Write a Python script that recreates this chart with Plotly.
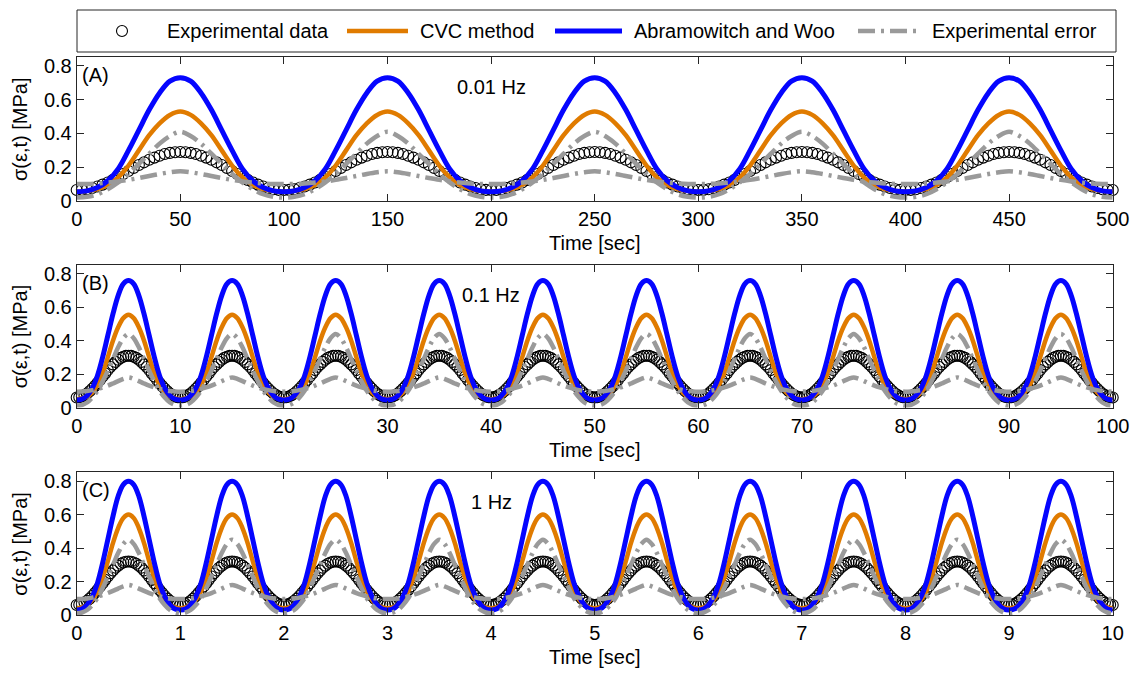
import plotly.graph_objects as go

W, H = 1142, 673

# ---------------- data (one cycle each) ----------------
# line curves: 20 samples per cycle (phase 0, 0.05, ... 0.95)
# circles: 40 samples per cycle (phase 0, 0.025, ... 0.975)
PERIOD_A, CYCLES_A = 100, 5
PERIOD_B, CYCLES_B = 10, 10
PERIOD_C, CYCLES_C = 1, 10

blue_A = [0.055, 0.06, 0.08, 0.12, 0.19, 0.30, 0.42, 0.54, 0.64, 0.71, 0.73,
          0.71, 0.64, 0.54, 0.42, 0.30, 0.19, 0.12, 0.08, 0.06]
orange_A = [0.055, 0.06, 0.07, 0.095, 0.14, 0.21, 0.30, 0.39, 0.46, 0.51, 0.53,
            0.51, 0.46, 0.39, 0.30, 0.21, 0.14, 0.095, 0.07, 0.06]
upper_A = [0.02, 0.025, 0.04, 0.07, 0.11, 0.16, 0.22, 0.28, 0.34, 0.385, 0.41,
           0.385, 0.34, 0.28, 0.22, 0.16, 0.11, 0.07, 0.04, 0.025]
lower_A = [0.100, 0.101, 0.104, 0.109, 0.116, 0.125, 0.136, 0.148, 0.160, 0.170, 0.176,
           0.170, 0.160, 0.148, 0.136, 0.125, 0.116, 0.109, 0.104, 0.101]
circ_A = [0.065, 0.066, 0.070, 0.077, 0.086, 0.097, 0.110, 0.125, 0.142, 0.160,
          0.178, 0.196, 0.213, 0.229, 0.244, 0.257, 0.268, 0.278, 0.285, 0.289,
          0.290, 0.289, 0.285, 0.278, 0.268, 0.257, 0.244, 0.229, 0.213, 0.196,
          0.178, 0.160, 0.142, 0.125, 0.110, 0.097, 0.086, 0.077, 0.070, 0.066]

blue_B = [0.045, 0.05, 0.07, 0.115, 0.19, 0.30, 0.43, 0.56, 0.67, 0.74, 0.76,
          0.74, 0.67, 0.56, 0.43, 0.30, 0.19, 0.115, 0.07, 0.05]
orange_B = [0.05, 0.055, 0.065, 0.09, 0.135, 0.205, 0.30, 0.40, 0.48, 0.535, 0.555,
            0.535, 0.48, 0.40, 0.30, 0.205, 0.135, 0.09, 0.065, 0.055]
upper_B = [0.01, 0.015, 0.03, 0.06, 0.10, 0.155, 0.22, 0.29, 0.36, 0.415, 0.44,
           0.415, 0.36, 0.29, 0.22, 0.155, 0.10, 0.06, 0.03, 0.015]
lower_B = [0.095, 0.096, 0.099, 0.104, 0.111, 0.120, 0.131, 0.144, 0.158, 0.171, 0.180,
           0.171, 0.158, 0.144, 0.131, 0.120, 0.111, 0.104, 0.099, 0.096]
circ_B = [0.060, 0.062, 0.066, 0.074, 0.084, 0.097, 0.112, 0.128, 0.146, 0.165,
          0.185, 0.204, 0.224, 0.242, 0.258, 0.273, 0.286, 0.297, 0.304, 0.309,
          0.310, 0.309, 0.304, 0.297, 0.286, 0.273, 0.258, 0.242, 0.224, 0.204,
          0.185, 0.165, 0.146, 0.128, 0.112, 0.097, 0.084, 0.074, 0.066, 0.062]

blue_C = [0.03, 0.036, 0.06, 0.11, 0.19, 0.31, 0.45, 0.59, 0.71, 0.78, 0.80,
          0.78, 0.71, 0.59, 0.45, 0.31, 0.19, 0.11, 0.06, 0.036]
orange_C = [0.04, 0.045, 0.06, 0.09, 0.14, 0.22, 0.32, 0.43, 0.52, 0.58, 0.60,
            0.58, 0.52, 0.43, 0.32, 0.22, 0.14, 0.09, 0.06, 0.045]
upper_C = [0.01, 0.015, 0.03, 0.06, 0.10, 0.16, 0.23, 0.30, 0.37, 0.425, 0.45,
           0.425, 0.37, 0.30, 0.23, 0.16, 0.10, 0.06, 0.03, 0.015]
lower_C = [0.095, 0.096, 0.099, 0.104, 0.111, 0.120, 0.131, 0.144, 0.158, 0.171, 0.180,
           0.171, 0.158, 0.144, 0.131, 0.120, 0.111, 0.104, 0.099, 0.096]
circ_C = [0.060, 0.062, 0.066, 0.074, 0.085, 0.098, 0.114, 0.131, 0.150, 0.170,
          0.190, 0.210, 0.230, 0.249, 0.266, 0.282, 0.295, 0.306, 0.314, 0.318,
          0.320, 0.318, 0.314, 0.306, 0.295, 0.282, 0.266, 0.249, 0.230, 0.210,
          0.190, 0.170, 0.150, 0.131, 0.114, 0.098, 0.085, 0.074, 0.066, 0.062]

xticks_A = [0, 50, 100, 150, 200, 250, 300, 350, 400, 450, 500]
xticks_B = [0, 10, 20, 30, 40, 50, 60, 70, 80, 90, 100]
xticks_C = [0, 1, 2, 3, 4, 5, 6, 7, 8, 9, 10]
yticks = [0, 0.2, 0.4, 0.6, 0.8]
ytext = ["0", "0.2", "0.4", "0.6", "0.8"]

freq_labels = ["0.01 Hz", "0.1 Hz", "1 Hz"]
panel_labels = ["(A)", "(B)", "(C)"]
legend_names = ["Experimental data", "CVC method", "Abramowitch and Woo", "Experimental error"]

# ---------------- styles ----------------
FONT = "Liberation Sans, Arial, Helvetica, sans-serif"
BLUE = "#0505ff"
ORANGE = "#e07b00"
GRAY = "#9a9a9a"
AX = "#262626"
DASH = "17px,6px,3px,6px"


def tile(vals, period, cycles):
    n = len(vals)
    xs = [(k + i / n) * period for k in range(cycles) for i in range(n)] + [cycles * period]
    ys = vals * cycles + [vals[0]]
    return xs, ys


def px(x):
    return x / W


def py(y):
    return 1 - y / H


panels = [
    dict(period=PERIOD_A, cycles=CYCLES_A, blue=blue_A, orange=orange_A, upper=upper_A,
         lower=lower_A, circ=circ_A, ticks=xticks_A, top=57, bot=201),
    dict(period=PERIOD_B, cycles=CYCLES_B, blue=blue_B, orange=orange_B, upper=upper_B,
         lower=lower_B, circ=circ_B, ticks=xticks_B, top=265, bot=407.5),
    dict(period=PERIOD_C, cycles=CYCLES_C, blue=blue_C, orange=orange_C, upper=upper_C,
         lower=lower_C, circ=circ_C, ticks=xticks_C, top=472.3, bot=615),
]

PL, PR = 76.7, 1112.7

fig = go.Figure()
layout = dict(
    template="none",
    width=W, height=H, margin=dict(l=0, r=0, t=0, b=0, pad=0, autoexpand=False),
    paper_bgcolor="white", plot_bgcolor="white", showlegend=False,
    font=dict(family=FONT, size=20, color="black"),
)
annotations = []
shapes = []

for i, p in enumerate(panels):
    sfx = "" if i == 0 else str(i + 1)
    xa, ya = "x" + sfx, "y" + sfx
    cx, cy = tile(p["circ"], p["period"], p["cycles"])
    fig.add_trace(go.Scatter(x=cx, y=cy, mode="markers", xaxis=xa, yaxis=ya, cliponaxis=False,
                             marker=dict(symbol="circle-open", size=11, color="black",
                                         line=dict(width=1.1, color="black"))))
    for key, col, wid, dash in [("orange", ORANGE, 4.5, "solid"), ("blue", BLUE, 5, "solid"),
                                ("upper", GRAY, 4.5, DASH), ("lower", GRAY, 4.5, DASH)]:
        lx, ly = tile(p[key], p["period"], p["cycles"])
        fig.add_trace(go.Scatter(x=lx, y=ly, mode="lines", xaxis=xa, yaxis=ya,
                                 line=dict(color=col, width=wid, dash=dash, shape="spline", smoothing=1.0)))
    axstyle = dict(showline=True, linecolor=AX, linewidth=1, mirror="ticks", ticks="inside",
                   ticklen=7, tickcolor=AX, tickwidth=1, showgrid=False, zeroline=False,
                   automargin=False,
                   tickfont=dict(family=FONT, size=20, color="black"))
    layout["xaxis" + sfx] = dict(axstyle, domain=[px(PL), px(PR)], anchor=ya,
                                 range=[0, p["ticks"][-1]], tickmode="array", tickvals=p["ticks"],
                                 ticktext=[str(t) for t in p["ticks"]])
    layout["yaxis" + sfx] = dict(axstyle, domain=[py(p["bot"]), py(p["top"])], anchor=xa,
                                 range=[0, 0.853], tickmode="array", tickvals=yticks, ticktext=ytext)
    mid = (PL + PR) / 2
    annotations.append(dict(text="Time [sec]", x=px(mid), y=py(p["bot"] + 42), xref="paper", yref="paper",
                            showarrow=False, xanchor="center", yanchor="middle",
                            font=dict(family=FONT, size=20)))
    annotations.append(dict(text="σ(ε,t) [MPa]", x=px(20), y=py((p["top"] + p["bot"]) / 2),
                            xref="paper", yref="paper", showarrow=False, textangle=-90,
                            xanchor="center", yanchor="middle", font=dict(family=FONT, size=20)))
    annotations.append(dict(text=panel_labels[i], x=px(80), y=py(p["top"] + 18), xref="paper", yref="paper",
                            showarrow=False, xanchor="left", yanchor="middle",
                            font=dict(family=FONT, size=20)))
    annotations.append(dict(text=freq_labels[i], x=px(491), y=py(p["top"] + 30), xref="paper", yref="paper",
                            showarrow=False, xanchor="center", yanchor="middle",
                            font=dict(family=FONT, size=20)))

# ---------------- legend box (drawn manually) ----------------
LT, LB, LY = 10, 52, 31
shapes.append(dict(type="rect", xref="paper", yref="paper", x0=px(77), x1=px(1116), y0=py(LB), y1=py(LT),
                   line=dict(color=AX, width=1), fillcolor="white"))
shapes.append(dict(type="circle", xref="paper", yref="paper", x0=px(116.5), x1=px(127.5),
                   y0=py(LY + 5.5), y1=py(LY - 5.5), line=dict(color="black", width=1.1)))
shapes.append(dict(type="line", xref="paper", yref="paper", x0=px(347), x1=px(408), y0=py(LY), y1=py(LY),
                   line=dict(color=ORANGE, width=4.5)))
shapes.append(dict(type="line", xref="paper", yref="paper", x0=px(555), x1=px(622), y0=py(LY), y1=py(LY),
                   line=dict(color=BLUE, width=5)))
shapes.append(dict(type="line", xref="paper", yref="paper", x0=px(858), x1=px(920), y0=py(LY), y1=py(LY),
                   line=dict(color=GRAY, width=4.5, dash=DASH)))
for name, lx in zip(legend_names, [165, 418, 632, 930]):
    annotations.append(dict(text=name, x=px(lx), y=py(LY), xref="paper", yref="paper", showarrow=False,
                            xanchor="left", yanchor="middle", font=dict(family=FONT, size=20)))

layout["annotations"] = annotations
layout["shapes"] = shapes
fig.update_layout(**layout)
fig.write_html("out.html")
